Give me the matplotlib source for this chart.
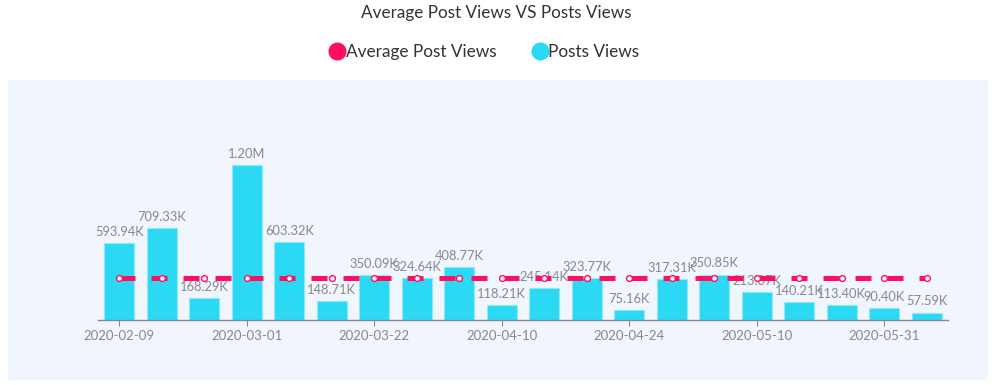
import matplotlib.pyplot as plt
from matplotlib.lines import Line2D
from matplotlib.patches import Rectangle

plt.rcParams['font.family'] = ['Lato', 'DejaVu Sans']

dates = ["2020-02-09", "2020-02-16", "2020-02-23", "2020-03-01", "2020-03-08",
         "2020-03-15", "2020-03-22", "2020-03-29", "2020-04-05", "2020-04-10",
         "2020-04-15", "2020-04-19", "2020-04-24", "2020-04-29", "2020-05-03",
         "2020-05-10", "2020-05-17", "2020-05-24", "2020-05-31", "2020-06-07"]
post_views = [593.94e3, 709.33e3, 168.29e3, 1.20e6, 603.32e3, 148.71e3, 350.09e3,
              324.64e3, 408.77e3, 118.21e3, 245.14e3, 323.77e3, 75.16e3, 317.31e3,
              350.85e3, 213.07e3, 140.21e3, 113.40e3, 90.40e3, 57.59e3]
avg_views = [327.61e3] * len(post_views)


def fmt(v):
    if v >= 1e6:
        return f"{v / 1e6:.2f}M"
    return f"{v / 1e3:.2f}K"


W, H = 992, 385
fig = plt.figure(figsize=(W / 100, H / 100), dpi=100)
fig.patches.append(Rectangle((8 / W, 5 / H), 980 / W, 300 / H, transform=fig.transFigure,
                             facecolor="#f1f5fd", edgecolor="none", zorder=-5))

ax = fig.add_axes([98 / W, (H - 320) / H, 850 / W, 220 / H])
ax.set_facecolor("none")
ax.set_zorder(2)

x = list(range(len(dates)))
ax.bar(x, post_views, width=0.7, color="#2bd9f5", edgecolor="#8eeafa", linewidth=0.8, zorder=2)
for xi, v in zip(x, post_views):
    ax.text(xi, v + 40e3, fmt(v), ha="center", va="bottom", fontsize=9.3, color="#888888", zorder=2.5)

ax.plot(x, avg_views, color="#ff0f63", linewidth=3.6, dashes=(3.2, 3.2), zorder=3,
        marker="o", markersize=4.2, markerfacecolor="white", markeredgecolor="#ff0f63",
        markeredgewidth=1)

ax.set_xlim(-0.5, len(x) - 0.5)
ax.set_ylim(0, 1.70e6)
ax.set_xticks(x[::3])
ax.set_xticklabels(dates[::3])
ax.tick_params(axis="x", colors="#888888", labelsize=9.5, length=4, width=0.8, pad=3)
ax.set_yticks([])
for s in ["top", "left", "right"]:
    ax.spines[s].set_visible(False)
ax.spines["bottom"].set_color("#888888")
ax.spines["bottom"].set_linewidth(1)

fig.text(0.5, 1 - 13 / H, "Average Post Views VS Posts Views", ha="center", va="center",
         fontsize=12.3, color="#333333")

handles = [
    Line2D([], [], linestyle="none", marker="o", markersize=12, color="#ff0f63"),
    Line2D([], [], linestyle="none", marker="o", markersize=12, color="#2bd9f5"),
]
fig.legend(handles, ["Average Post Views", "Posts Views"], loc="center",
           bbox_to_anchor=(0.488, 1 - 52 / H), ncol=2, frameon=False, fontsize=12.4,
           handletextpad=0.0, columnspacing=2.0, handlelength=1.0,
           labelcolor="#333333")

fig.savefig("out.png", dpi=100)
